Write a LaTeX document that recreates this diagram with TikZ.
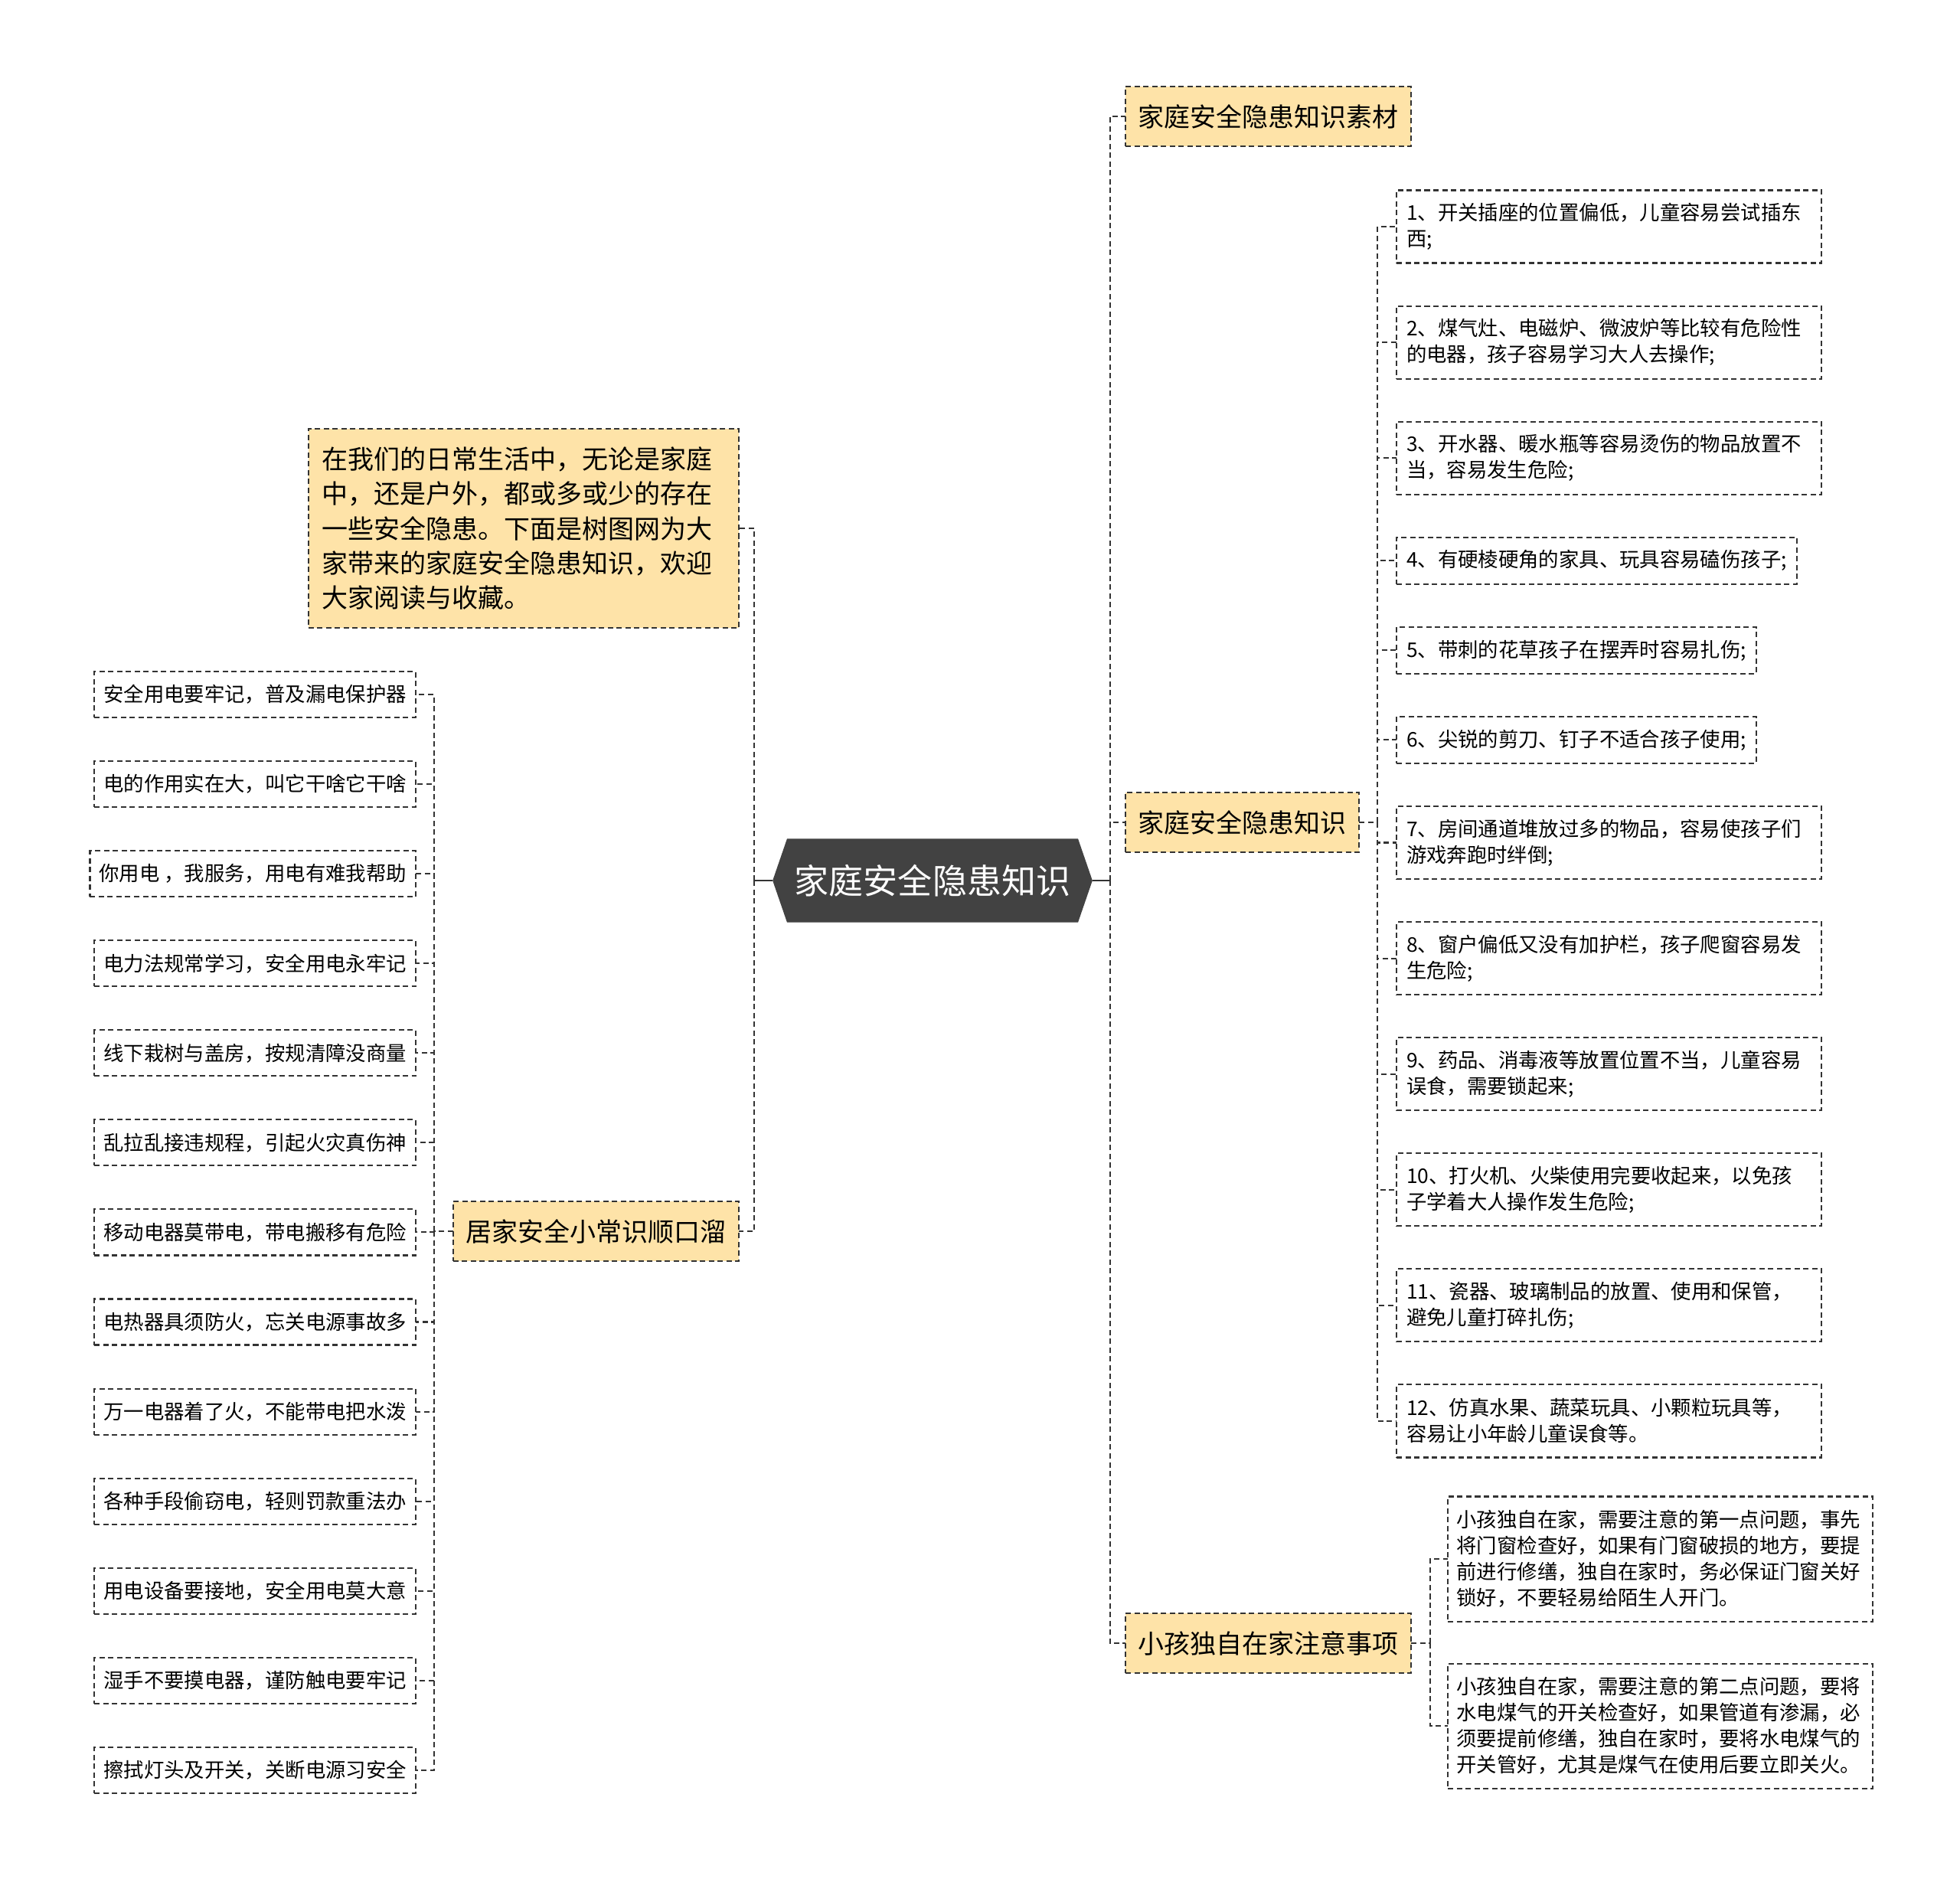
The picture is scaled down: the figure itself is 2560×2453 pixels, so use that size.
\documentclass[tikz,border=0pt]{standalone}
\usepackage{fontspec}
\setmainfont{Noto Sans CJK SC}
\usetikzlibrary{positioning,shapes.symbols}
\definecolor{Ink}{HTML}{333333}
\definecolor{Dark}{HTML}{424242}
\definecolor{Cream}{HTML}{FEE3A8}
\tikzset{
  topic/.style={signal,signal to=west and east,signal pointer angle=142,fill=Dark,text=white,font=\fontsize{12.8pt}{15pt}\selectfont,minimum height=1.09cm,inner xsep=.1cm,outer sep=0pt},
  dashline/.style={draw=Ink,line width=.021cm,dash pattern=on .07cm off .045cm,outer sep=0pt},
  branch/.style={dashline,fill=Cream,minimum height=.78cm,inner xsep=.165cm,font=\fontsize{9.67pt}{12.8pt}\selectfont},
  intro/.style={dashline,fill=Cream,text width=5.26cm,align=left,inner xsep=.18cm,minimum height=2.6cm,font=\fontsize{9.67pt}{12.8pt}\selectfont},
  rhyme/.style={dashline,minimum height=.6cm,inner xsep=.12cm,font=\fontsize{7.5pt}{9.67pt}\selectfont},
  hint/.style={dashline,align=left,minimum height=.61cm,inner xsep=.13cm,font=\fontsize{7.5pt}{9.67pt}\selectfont},
  wide/.style={text width=5.29cm,minimum height=.95cm},
  tall/.style={text width=5.32cm,inner xsep=.115cm,minimum height=1.63cm},
  link/.style={dashline},
  trunk/.style={dashline,line width=.026cm},
  stub/.style={draw=Ink,line width=.026cm}
}
\begin{document}
\begin{tikzpicture}[x=.01cm,y=.01cm]
  \fill[white] (0,0) rectangle (2560,-2453);
  \useasboundingbox (0,0) rectangle (2560,-2453);
  % centre
  \node[topic] (root) at (1218,-1150) {家庭安全隐患知识};
  \coordinate[left=.24cm of root.west] (lhub);
  \coordinate[right=.23cm of root.east] (rhub);
  % left side
  \node[intro,anchor=east] (intro) at (965,-690) {在我们的日常生活中，无论是家庭\\中，还是户外，都或多或少的存在\\一些安全隐患。下面是树图网为大\\家带来的家庭安全隐患知识，欢迎\\大家阅读与收藏。};
  \node[branch,anchor=east] (home) at (965,-1608) {居家安全小常识顺口溜};
  \coordinate[left=.25cm of home.west] (hhub);
  \node[rhyme,anchor=east] (r1) at (543,-907) {安全用电要牢记，普及漏电保护器};
  \node[rhyme,below=.57cm of r1.south east,anchor=north east] (r2) {电的作用实在大，叫它干啥它干啥};
  \node[rhyme,below=.57cm of r2.south east,anchor=north east] (r3) {你用电 ，我服务，用电有难我帮助};
  \node[rhyme,below=.57cm of r3.south east,anchor=north east] (r4) {电力法规常学习，安全用电永牢记};
  \node[rhyme,below=.57cm of r4.south east,anchor=north east] (r5) {线下栽树与盖房，按规清障没商量};
  \node[rhyme,below=.57cm of r5.south east,anchor=north east] (r6) {乱拉乱接违规程，引起火灾真伤神};
  \node[rhyme,below=.57cm of r6.south east,anchor=north east] (r7) {移动电器莫带电，带电搬移有危险};
  \node[rhyme,below=.57cm of r7.south east,anchor=north east] (r8) {电热器具须防火，忘关电源事故多};
  \node[rhyme,below=.57cm of r8.south east,anchor=north east] (r9) {万一电器着了火，不能带电把水泼};
  \node[rhyme,below=.57cm of r9.south east,anchor=north east] (r10) {各种手段偷窃电，轻则罚款重法办};
  \node[rhyme,below=.57cm of r10.south east,anchor=north east] (r11) {用电设备要接地，安全用电莫大意};
  \node[rhyme,below=.57cm of r11.south east,anchor=north east] (r12) {湿手不要摸电器，谨防触电要牢记};
  \node[rhyme,below=.57cm of r12.south east,anchor=north east] (r13) {擦拭灯头及开关，关断电源习安全};
  % right side
  \node[branch,anchor=west] (material) at (1470,-152) {家庭安全隐患知识素材};
  \node[branch,anchor=west] (hazard) at (1470,-1074) {家庭安全隐患知识};
  \node[branch,anchor=west] (alone) at (1470,-2146) {小孩独自在家注意事项};
  \coordinate[right=.24cm of hazard.east] (zhub);
  \coordinate[right=.25cm of alone.east] (ahub);
  \node[hint,wide,anchor=west] (h1) at (1824,-296) {1、开关插座的位置偏低，儿童容易尝试插东\\西;};
  \node[hint,wide,below=.56cm of h1.south west,anchor=north west] (h2) {2、煤气灶、电磁炉、微波炉等比较有危险性\\的电器，孩子容易学习大人去操作;};
  \node[hint,wide,below=.56cm of h2.south west,anchor=north west] (h3) {3、开水器、暖水瓶等容易烫伤的物品放置不\\当，容易发生危险;};
  \node[hint,below=.56cm of h3.south west,anchor=north west] (h4) {4、有硬棱硬角的家具、玩具容易磕伤孩子;};
  \node[hint,below=.56cm of h4.south west,anchor=north west] (h5) {5、带刺的花草孩子在摆弄时容易扎伤;};
  \node[hint,below=.56cm of h5.south west,anchor=north west] (h6) {6、尖锐的剪刀、钉子不适合孩子使用;};
  \node[hint,wide,below=.56cm of h6.south west,anchor=north west] (h7) {7、房间通道堆放过多的物品，容易使孩子们\\游戏奔跑时绊倒;};
  \node[hint,wide,below=.56cm of h7.south west,anchor=north west] (h8) {8、窗户偏低又没有加护栏，孩子爬窗容易发\\生危险;};
  \node[hint,wide,below=.56cm of h8.south west,anchor=north west] (h9) {9、药品、消毒液等放置位置不当，儿童容易\\误食，需要锁起来;};
  \node[hint,wide,below=.56cm of h9.south west,anchor=north west] (h10) {10、打火机、火柴使用完要收起来，以免孩\\子学着大人操作发生危险;};
  \node[hint,wide,below=.56cm of h10.south west,anchor=north west] (h11) {11、瓷器、玻璃制品的放置、使用和保管，\\避免儿童打碎扎伤;};
  \node[hint,wide,below=.56cm of h11.south west,anchor=north west] (h12) {12、仿真水果、蔬菜玩具、小颗粒玩具等，\\容易让小年龄儿童误食等。};
  \node[hint,tall,anchor=west] (a1) at (1891,-2036) {小孩独自在家，需要注意的第一点问题，事先\\将门窗检查好，如果有门窗破损的地方，要提\\前进行修缮，独自在家时，务必保证门窗关好\\锁好，不要轻易给陌生人开门。};
  \node[hint,tall,below=.55cm of a1.south west,anchor=north west] (a2) {小孩独自在家，需要注意的第二点问题，要将\\水电煤气的开关检查好，如果管道有渗漏，必\\须要提前修缮，独自在家时，要将水电煤气的\\开关管好，尤其是煤气在使用后要立即关火。};
  % connectors
  \draw[stub] (root.west) -- (lhub);
  \draw[stub] (root.east) -- (rhub);
  \draw[trunk] (lhub) |- (intro.east);
  \draw[trunk] (lhub) |- (home.east);
  \draw[trunk] (rhub) |- (material.west);
  \draw[trunk] (rhub) |- (hazard.west);
  \draw[trunk] (rhub) |- (alone.west);
  \draw[link] (home.west) -- (hhub);
  \draw[link] (hhub) |- (r1.east);
  \draw[link] (hhub) |- (r2.east);
  \draw[link] (hhub) |- (r3.east);
  \draw[link] (hhub) |- (r4.east);
  \draw[link] (hhub) |- (r5.east);
  \draw[link] (hhub) |- (r6.east);
  \draw[link] (hhub) |- (r7.east);
  \draw[link] (hhub) |- (r8.east);
  \draw[link] (hhub) |- (r9.east);
  \draw[link] (hhub) |- (r10.east);
  \draw[link] (hhub) |- (r11.east);
  \draw[link] (hhub) |- (r12.east);
  \draw[link] (hhub) |- (r13.east);
  \draw[link] (hazard.east) -- (zhub);
  \draw[link] (zhub) |- (h1.west);
  \draw[link] (zhub) |- (h2.west);
  \draw[link] (zhub) |- (h3.west);
  \draw[link] (zhub) |- (h4.west);
  \draw[link] (zhub) |- (h5.west);
  \draw[link] (zhub) |- (h6.west);
  \draw[link] (zhub) |- (h7.west);
  \draw[link] (zhub) |- (h8.west);
  \draw[link] (zhub) |- (h9.west);
  \draw[link] (zhub) |- (h10.west);
  \draw[link] (zhub) |- (h11.west);
  \draw[link] (zhub) |- (h12.west);
  \draw[link] (alone.east) -- (ahub);
  \draw[link] (ahub) |- (a1.west);
  \draw[link] (ahub) |- (a2.west);
\end{tikzpicture}
\end{document}
